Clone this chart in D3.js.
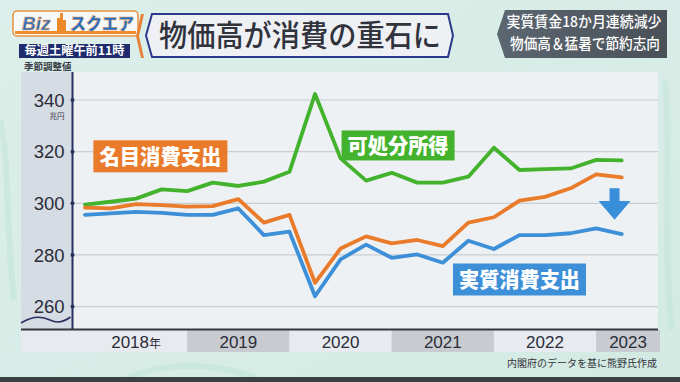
<!DOCTYPE html>
<html><head><meta charset="utf-8">
<script src="https://cdn.jsdelivr.net/npm/d3@7"></script>
<style>
html,body{margin:0;padding:0;background:#d8ece6;}
svg{display:block;}
</style></head>
<body>
<svg id="c" width="680" height="382"></svg>
<script>
// ---------------- data (quarterly, 2018Q1 .. 2023Q2), 兆円, 季節調整値 ----------------
const quarters = d3.range(22); // index 0 = 2018Q1
const years = ["2018年","2019","2020","2021","2022","2023"];
const yTicks = [260, 280, 300, 320, 340];
const disposableIncome = [299.5,300.6,301.8,305.4,304.7,308.0,306.7,308.4,312.2,342.3,317.4,308.8,311.8,308.0,308.0,310.3,321.5,312.9,313.2,313.5,316.8,316.6];
const nominalSpending  = [298.3,298.0,299.7,299.3,298.7,298.9,301.6,292.5,295.5,269.2,282.5,287.2,284.5,285.8,283.4,292.5,294.6,301.0,302.5,305.8,311.2,310.0];
const realSpending     = [295.5,296.1,296.7,296.3,295.5,295.5,298.0,287.7,289.0,264.0,278.3,284.0,278.9,280.2,277.0,285.5,282.3,287.7,287.7,288.4,290.3,288.1];
const seriesNames = ["可処分所得","名目消費支出","実質消費支出"];
const title = "物価高が消費の重石に";
const subtitle1 = "実質賃金18か月連続減少";
const subtitle2 = "物価高＆猛暑で節約志向";
const source = "内閣府のデータを基に熊野氏作成";

const svg = d3.select("#c");
const W = 680, H = 382;
const JP = "'Noto Sans CJK JP','Noto Sans',sans-serif";
const NUM = "'Liberation Sans',Arial,sans-serif";

// background
const defs = svg.append("defs");
const bg = defs.append("linearGradient").attr("id","bg").attr("x1",0).attr("y1",0).attr("x2",1).attr("y2",1);
bg.append("stop").attr("offset","0%").attr("stop-color","#dcefea");
bg.append("stop").attr("offset","100%").attr("stop-color","#d3eae3");
svg.append("rect").attr("width",W).attr("height",H).attr("fill","url(#bg)");
// faint decorative strokes
const deco = svg.append("g").attr("fill","none").attr("stroke","#c6e6dc").attr("stroke-width",6).attr("opacity",0.7);
deco.append("path").attr("d","M0,120 C10,160 5,220 14,300");
deco.append("path").attr("d","M120,382 C160,360 220,362 260,380");
deco.append("path").attr("d","M665,80 C672,150 662,240 672,330");
svg.append("rect").attr("x",0).attr("y",377).attr("width",W).attr("height",5).attr("fill","#3b4045");

// ---------------- scales ----------------
const x = d3.scaleLinear().domain([0,21]).range([85,621.7]);
const y = d3.scaleLinear().domain([260,340]).range([306.6,100]);
const panelL = 21, panelR = 658, panelT = 72, axisY = 329.5, axisX = 72.5;

// panel
svg.append("rect").attr("x",panelL).attr("y",panelT).attr("width",panelR-panelL).attr("height",axisY-panelT).attr("fill","#edf1f3");
svg.append("rect").attr("x",panelL).attr("y",panelT).attr("width",axisX-panelL).attr("height",axisY-panelT).attr("fill","#d6dce3");

// gridlines
svg.append("g").selectAll("line").data(yTicks).join("line")
  .attr("x1",axisX).attr("x2",panelR).attr("y1",d=>y(d)).attr("y2",d=>y(d))
  .attr("stroke","#c9ced3").attr("stroke-width",1.2);

// y axis
const yAxis = d3.axisLeft(y).tickValues(yTicks).tickSize(0).tickPadding(8);
const ya = svg.append("g").attr("transform",`translate(${axisX},0)`).call(yAxis);
ya.select(".domain").remove();
ya.selectAll("text").attr("font-family",NUM).attr("font-size",18.5).attr("fill","#2b2c3a").attr("dy","0.33em");
svg.append("line").attr("x1",axisX).attr("x2",axisX).attr("y1",panelT).attr("y2",axisY).attr("stroke","#2a2f5c").attr("stroke-width",2);
svg.append("g").selectAll("circle").data(yTicks).join("circle")
  .attr("cx",axisX).attr("cy",d=>y(d)).attr("r",2).attr("fill","#2a2f5c");
svg.append("text").attr("x",57).attr("y",y(340)+19).attr("text-anchor","middle").attr("font-family",JP).attr("font-size",7.5).attr("fill","#3a3b48").text("兆円");
svg.append("text").attr("x",24).attr("y",69.5).attr("font-family",JP).attr("font-size",9.5).attr("font-weight",700).attr("fill","#3a3d48").text("季節調整値");
// axis break wave
svg.append("path").attr("d",`M${panelL},323 C32,316 42,316 50,320 C58,324 64,322 ${axisX-2},317`)
  .attr("fill","none").attr("stroke","#2a2f5c").attr("stroke-width",1.6);

// year band strip
const stripT = axisY+0.5, stripB = 352;
const bands = years.map((yr,i)=>{
  const s = i===0 ? panelL : x(4*i);
  const e = i===years.length-1 ? 660 : x(4*i+4);
  const c = (Math.max(s, x(4*i)) + e)/2;
  return {yr, s, e, c, i};
});
svg.append("g").selectAll("rect").data(bands).join("rect")
  .attr("x",d=>d.s).attr("y",stripT).attr("width",d=>d.e-d.s).attr("height",stripB-stripT)
  .attr("fill",d=>d.i%2===0?"#e7ebef":"#c8ccd0");
const yl = svg.append("g").selectAll("text").data(bands).join("text")
  .attr("x",d=>d.c).attr("y",348).attr("text-anchor","middle")
  .attr("font-family",NUM).attr("font-size",17).attr("fill","#2b2c3a");
yl.each(function(d){
  const t = d3.select(this);
  if (d.yr.endsWith("年")) {
    t.append("tspan").text(d.yr.slice(0,-1));
    t.append("tspan").attr("font-family",JP).attr("font-size",12).text("年");
  } else t.text(d.yr);
});
svg.append("line").attr("x1",panelL).attr("x2",panelR).attr("y1",axisY).attr("y2",axisY).attr("stroke","#34373d").attr("stroke-width",2);

svg.append("text").attr("x",657).attr("y",367).attr("text-anchor","end").attr("font-family",JP).attr("font-size",10).attr("fill","#33353d").text(source);

// ---------------- lines ----------------
const line = d3.line().x((d,i)=>x(quarters[i])).y(d=>y(d));
const series = [
  {name:seriesNames[0], vals:disposableIncome, color:"#43b22c"},
  {name:seriesNames[1], vals:nominalSpending, color:"#e97b2a"},
  {name:seriesNames[2], vals:realSpending, color:"#3d8fd8"}
];
svg.append("g").selectAll("path").data(series).join("path")
  .attr("d",d=>line(d.vals)).attr("fill","none").attr("stroke",d=>d.color)
  .attr("stroke-width",3.8).attr("stroke-linejoin","round").attr("stroke-linecap","round");

// labels (anchored in data units)
const labels = [
  {s:1, cx:2.95, cy:318.2, w:134, h:32},
  {s:0, cx:12.25, cy:322.4, w:113, h:30},
  {s:2, cx:17.0, cy:270.5, w:133, h:32}
];
const lg = svg.append("g").selectAll("g").data(labels).join("g")
  .attr("transform",d=>`translate(${x(d.cx)},${y(d.cy)})`);
lg.append("rect").attr("x",d=>-d.w/2).attr("y",d=>-d.h/2).attr("width",d=>d.w).attr("height",d=>d.h)
  .attr("fill",d=>series[d.s].color);
lg.append("text").attr("text-anchor","middle").attr("dy","0.36em")
  .attr("font-family",JP).attr("font-weight",900).attr("font-size",21).attr("fill","#fff")
  .attr("textLength",d=>d.w-12).attr("lengthAdjust","spacingAndGlyphs")
  .text(d=>series[d.s].name);

// down arrow
const ax = x(20.72), aTop = y(305.8), aMid = y(300.9), aBot = y(293.6);
svg.append("path").attr("d",`M${ax-5},${aTop} L${ax+5},${aTop} L${ax+5},${aMid} L${ax+16},${aMid} L${ax},${aBot} L${ax-16},${aMid} L${ax-5},${aMid} Z`)
  .attr("fill","#3a8fda");

// ---------------- header ----------------
// logo
svg.append("rect").attr("x",13).attr("y",11).attr("width",125).attr("height",25).attr("rx",4).attr("fill","#f6f8fa").attr("stroke","#e8913a").attr("stroke-width",1.5);
svg.append("rect").attr("x",15).attr("y",31).attr("width",121).attr("height",3).attr("fill","#ee8a2a");
const logo = svg.append("text").attr("x",22).attr("y",30).attr("font-family",NUM).attr("font-weight",700).attr("font-style","italic").attr("font-size",19).attr("fill","#1f6fc6").attr("stroke","#f1a04a").attr("stroke-width",0.6);
logo.append("tspan").text("Biz");
svg.append("path").attr("d","M57,31 L57,18 L60,18 L60,13 L63,13 L63,20 L66,20 L66,31 Z").attr("fill","#ef8a2a");
svg.append("text").attr("x",70).attr("y",30).attr("font-family",JP).attr("font-weight",900).attr("font-size",17).attr("fill","#1f6fc6").attr("stroke","#f1a04a").attr("stroke-width",0.5)
  .attr("textLength",64).attr("lengthAdjust","spacingAndGlyphs").text("スクエア");
svg.append("rect").attr("x",19).attr("y",44).attr("width",111).attr("height",14).attr("fill","#1e2c6e");
svg.append("text").attr("x",74.5).attr("y",55).attr("text-anchor","middle").attr("font-family",JP).attr("font-weight",700).attr("font-size",12).attr("fill","#fff")
  .attr("textLength",100).attr("lengthAdjust","spacingAndGlyphs").text("毎週土曜午前11時");
// orange accent chevron
svg.append("path").attr("d","M141,14 L136,36 L141,58 L144,58 L139,36 L144,14 Z").attr("fill","#e8823a");

// title box
svg.append("path").attr("d","M152,14 L448,14 L453,35.5 L448,57 L152,57 L146,35.5 Z")
  .attr("fill","#eef0f4").attr("stroke","#2b3a8c").attr("stroke-width",2);
svg.append("text").attr("x",300).attr("y",35.5).attr("dy","0.36em").attr("text-anchor","middle")
  .attr("font-family",JP).attr("font-weight",500).attr("font-size",30).attr("fill","#30323c")
  .attr("textLength",282).attr("lengthAdjust","spacingAndGlyphs").text(title);

// right box
const rg = defs.append("linearGradient").attr("id","rg").attr("x1",0).attr("y1",0).attr("x2",1).attr("y2",0);
rg.append("stop").attr("offset","0%").attr("stop-color","#5b6670");
rg.append("stop").attr("offset","100%").attr("stop-color","#4a5058");
svg.append("path").attr("d","M505,10 L667,10 L667,58 L505,58 L497,34 Z").attr("fill","url(#rg)");
svg.append("text").attr("x",584).attr("y",22).attr("dy","0.36em").attr("text-anchor","middle")
  .attr("font-family",JP).attr("font-weight",500).attr("font-size",15).attr("fill","#fff")
  .attr("textLength",155).attr("lengthAdjust","spacingAndGlyphs").text(subtitle1);
svg.append("text").attr("x",585).attr("y",43.5).attr("dy","0.36em").attr("text-anchor","middle")
  .attr("font-family",JP).attr("font-weight",500).attr("font-size",15).attr("fill","#fff")
  .attr("textLength",150).attr("lengthAdjust","spacingAndGlyphs").text(subtitle2);
</script>
</body></html>
